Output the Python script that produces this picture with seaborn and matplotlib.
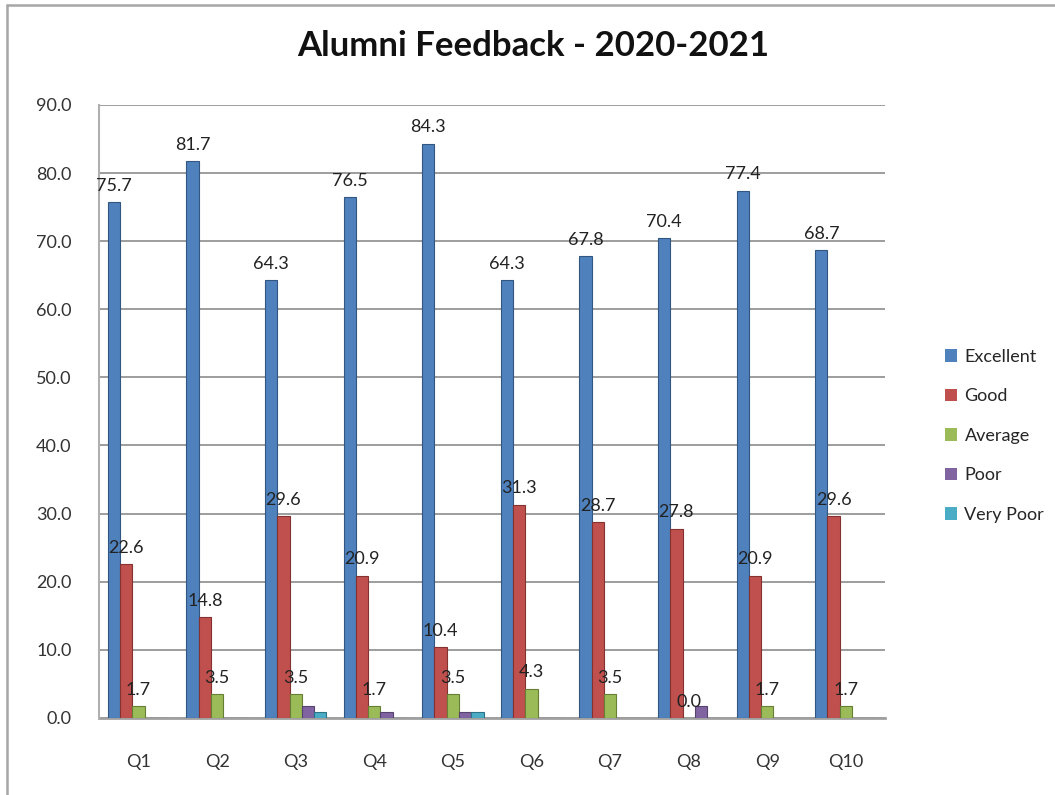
import numpy as np
import pandas as pd
import matplotlib
matplotlib.use("Agg")
import matplotlib.pyplot as plt
from matplotlib.lines import Line2D
import seaborn as sns

questions = ["Q1", "Q2", "Q3", "Q4", "Q5", "Q6", "Q7", "Q8", "Q9", "Q10"]
excellent = [75.7, 81.7, 64.3, 76.5, 84.3, 64.3, 67.8, 70.4, 77.4, 68.7]
good = [22.6, 14.8, 29.6, 20.9, 10.4, 31.3, 28.7, 27.8, 20.9, 29.6]
average = [1.7, 3.5, 3.5, 1.7, 3.5, 4.3, 3.5, 0.0, 1.7, 1.7]
poor = [0.0, 0.0, 1.7, 0.9, 0.9, 0.0, 0.0, 1.7, 0.0, 0.0]
very_poor = [0.0, 0.0, 0.9, 0.0, 0.9, 0.0, 0.0, 0.0, 0.0, 0.0]

ratings = ["Excellent", "Good", "Average", "Poor", "Very Poor"]
colors = ["#4F81BD", "#C0504D", "#9BBB59", "#8064A2", "#4BACC6"]
labelled = {"Excellent", "Good", "Average"}

series = dict(zip(ratings, [excellent, good, average, poor, very_poor]))
df = pd.DataFrame(
    [(q, r, series[r][i]) for r in ratings for i, q in enumerate(questions)],
    columns=["Question", "Rating", "Percent"],
)

sns.set_theme(style="white")
plt.rcParams["font.family"] = ["Lato", "DejaVu Sans"]

fig = plt.figure(figsize=(10.55, 7.95), dpi=100)
ax = fig.add_axes([0.094, 0.097, 0.745, 0.771])

sns.barplot(
    data=df, x="Question", y="Percent", hue="Rating",
    order=questions, hue_order=ratings, palette=colors,
    width=0.78, saturation=1, ax=ax, legend=True,
    edgecolor="none", linewidth=0,
)

# darker outlines and value labels
for container, rating, col in zip(ax.containers, ratings, colors):
    for patch in container.patches:
        patch.set_edgecolor(sns.set_hls_values(col, l=0.35))
        patch.set_linewidth(0.8)
        patch.set_zorder(3)
    if rating in labelled:
        ax.bar_label(container, fmt="%.1f", padding=6, fontsize=13,
                     color="#222222")

ax.set_ylim(0, 90)
ax.set_yticks(np.arange(0, 91, 10))
ax.set_yticklabels([f"{v:.1f}" for v in np.arange(0, 91, 10)],
                   fontsize=13, color="#333333")
ax.tick_params(axis="y", pad=20, length=0)
ax.tick_params(axis="x", pad=26, length=0, labelsize=13, labelcolor="#333333")
ax.set_xlabel("")
ax.set_ylabel("")
ax.yaxis.grid(True, color="#8c8c8c", linewidth=1.2)
ax.set_axisbelow(True)
for side in ["top", "right"]:
    ax.spines[side].set_visible(False)
ax.spines["left"].set_color("#b0b0b0")
ax.spines["left"].set_linewidth(1.5)
ax.spines["bottom"].set_color("#a0a0a0")
ax.spines["bottom"].set_linewidth(2)
ax.spines["bottom"].set_zorder(2)

handles, labels = ax.get_legend_handles_labels()
ax.legend(
    handles, labels, loc="center left", bbox_to_anchor=(1.055, 0.46),
    frameon=False, fontsize=13, handlelength=0.7, handleheight=0.7,
    handletextpad=0.4, labelspacing=1.3,
)

fig.suptitle("Alumni Feedback - 2020-2021", x=0.505, y=0.962,
             fontsize=25, fontweight="bold", color="#111111")

# chart frame
fig.add_artist(Line2D([0.007, 0.007], [0.0, 0.994], transform=fig.transFigure,
                      color="#a6a6a6", linewidth=1.8))
fig.add_artist(Line2D([0.007, 1.0], [0.994, 0.994], transform=fig.transFigure,
                      color="#a6a6a6", linewidth=1.8))

fig.savefig("out.png", dpi=100, facecolor="white")
